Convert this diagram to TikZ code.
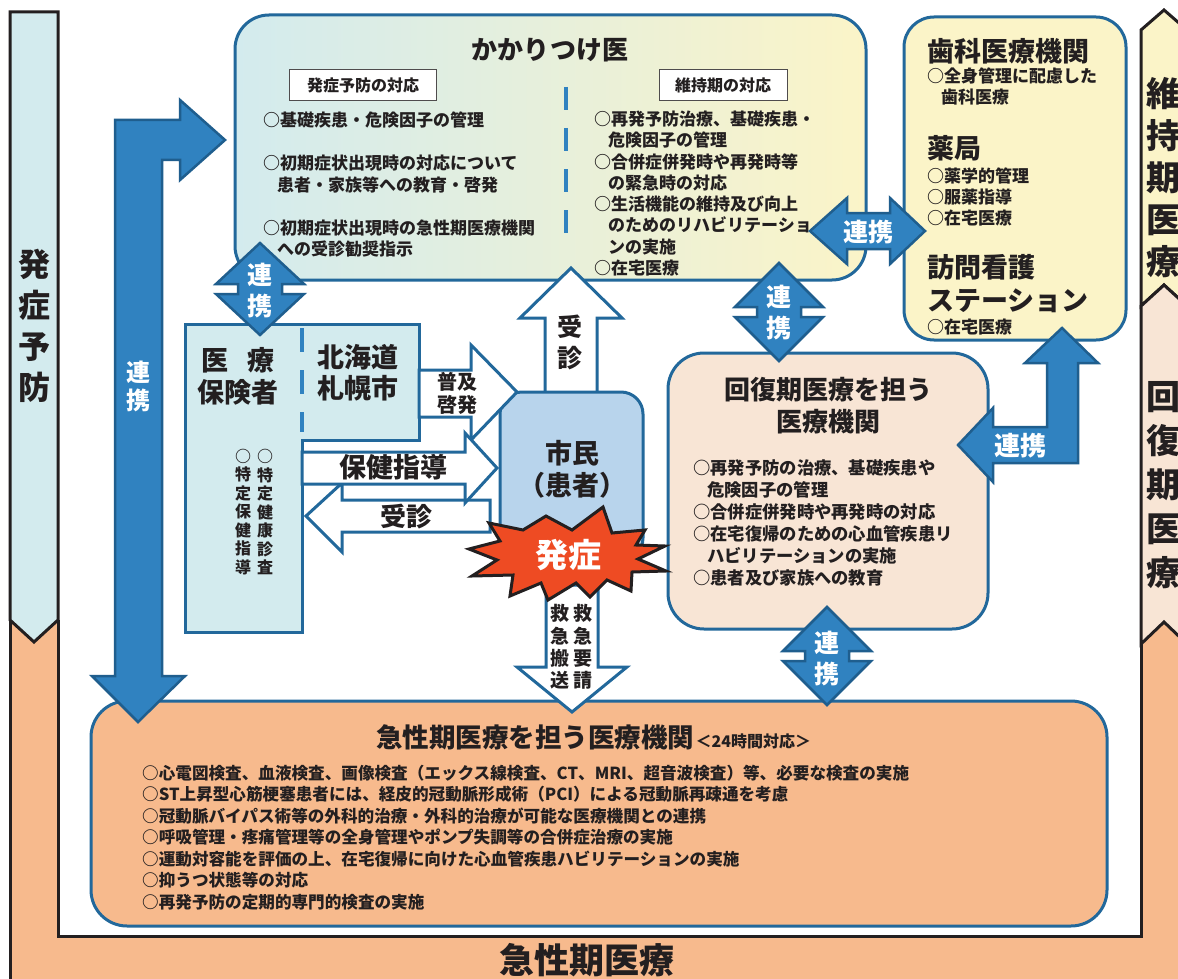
\documentclass[tikz,border=0pt]{standalone}
\usepackage{fontspec}
\setmainfont{Noto Sans CJK JP}
\usepackage{xcolor}
\usepackage{tikz}
\usetikzlibrary{positioning}

\definecolor{edgeblue}{HTML}{22689B}
\definecolor{prevfill}{HTML}{D3EBEE}
\definecolor{maintfill}{HTML}{FBF4C8}
\definecolor{recfill}{HTML}{F8E5D5}
\definecolor{acutefill}{HTML}{F7BA8D}
\definecolor{citizenfill}{HTML}{B8D4EC}
\definecolor{linkfill}{HTML}{3082C0}
\definecolor{linkedge}{HTML}{1F5E8E}
\definecolor{burstred}{HTML}{EE4B23}
\definecolor{inkgray}{HTML}{231F20}

\begin{document}
\begin{tikzpicture}[x=1pt, y=-1pt,
    every node/.style={text=inkgray, inner sep=0pt},
    band/.style={draw=inkgray, line width=3pt, line join=miter},
    panel/.style={draw=edgeblue, line width=3pt},
    hollow/.style={draw=edgeblue, fill=white, line width=3pt, line join=miter},
    linkarrow/.style={draw=linkedge, fill=linkfill, line width=2.5pt, line join=miter},
    gapline/.style={linkfill, line width=4.5pt},
    heading/.style={font=\bfseries\fontsize{26}{32}\selectfont, align=center},
    items/.style={font=\bfseries\fontsize{17}{21.5}\selectfont, align=left, anchor=west},
    tagbox/.style={draw=inkgray!80, fill=white, line width=1pt,
        font=\bfseries\fontsize{16}{18}\selectfont, minimum height=31pt},
    linktext/.style={text=white, font=\bfseries\fontsize{25}{31}\selectfont, align=center},
    bandtext/.style={font=\bfseries\fontsize{34}{43}\selectfont, align=center},
    vtext/.style={font=\bfseries\fontsize{16}{18.5}\selectfont, align=center}
]
\useasboundingbox (0,0) rectangle (1178,979);
\fill[white] (0,0) rectangle (1178,979);

% ===== FRAME: phase bands =====
\fill[acutefill] (10,600) -- (58,600) -- (58,936) -- (1141,936) -- (1141,600)
    -- (1200,600) -- (1200,1000) -- (10,1000) -- cycle;
\draw[band, fill=prevfill] (10,12) -- (58,12) -- (58,620) -- (34,642) -- (10,620) -- cycle;
\draw[band, fill=maintfill] (1141,306) -- (1141,30) -- (1164,10) -- (1187,30)
    -- (1187,306) -- (1164,285) -- cycle;
\draw[band, fill=recfill] (1141,644) -- (1141,306) -- (1164,285) -- (1187,306)
    -- (1187,644) -- (1164,622) -- cycle;
\draw[band] (10,620) -- (10,1000);
\draw[band] (58,620) -- (58,936) -- (1141,936) -- (1141,644);

\node[bandtext, font=\bfseries\fontsize{32}{41}\selectfont] (prevband) at (34,326) {発\\症\\予\\防};
\node[bandtext, font=\bfseries\fontsize{34}{42}\selectfont] (maintband) at (1163,178) {維\\持\\期\\医\\療};
\node[bandtext, font=\bfseries\fontsize{34}{44}\selectfont] (recband) at (1163,485) {回\\復\\期\\医\\療};
\node[bandtext, font=\bfseries\fontsize{35}{40}\selectfont] (acuteband) at (587,960) {急性期医療};

% ===== かかりつけ医 =====
\draw[panel, rounded corners=34pt, left color=prevfill, right color=maintfill]
    (235,15) rectangle (866,280);
\node[heading] (kakari) at (550,50) {かかりつけ医};
\node[tagbox, minimum width=147pt] (prevtag) at (363,85) {発症予防の対応};
\node[tagbox, minimum width=128pt] (mainttag) at (723,85) {維持期の対応};
\draw[gapline, dash pattern=on 23pt off 18pt] (566,87) -- (566,236);

\node[items] (kprev1) at (263,120) {○基礎疾患・危険因子の管理};
\node[items] (kprev2) at (263,174) {○初期症状出現時の対応について\\\hspace*{14pt}患者・家族等への教育・啓発};
\node[items, font=\bfseries\fontsize{17}{21}\selectfont] (kprev3) at (263,238.5)
    {○初期症状出現時の急性期医療機関\\\hspace*{14pt}への受診勧奨指示};
\node[items, font=\bfseries\fontsize{17}{21.3}\selectfont] (kmaint) at (594,193.5)
    {○再発予防治療、基礎疾患・\\\hspace*{14pt}危険因子の管理\\○合併症併発時や再発時等\\%
     \hspace*{14pt}の緊急時の対応\\○生活機能の維持及び向上\\\hspace*{14pt}のためのリハビリテーショ\\%
     \hspace*{14pt}ンの実施\\○在宅医療};

% ===== 歯科・薬局・訪問看護 =====
\draw[panel, rounded corners=30pt, fill=maintfill] (904,17) rectangle (1126,340);
\node[heading, anchor=west, font=\bfseries\fontsize{27}{33}\selectfont] (dental) at (927,51) {歯科医療機関};
\node[items] (dentalitem) at (927,86.5) {○全身管理に配慮した\\\hspace*{14pt}歯科医療};
\node[heading, anchor=west, font=\bfseries\fontsize{27}{33}\selectfont] (pharmacy) at (927,148) {薬局};
\node[items, font=\bfseries\fontsize{17}{21}\selectfont] (pharmitem) at (927,197)
    {○薬学的管理\\○服薬指導\\○在宅医療};
\node[heading, anchor=west, align=left, font=\bfseries\fontsize{27}{33}\selectfont] (nursing) at (927,283.5)
    {訪問看護\\ステーション};
\node[items] (nursitem) at (927,327) {○在宅医療};

% ===== 医療保険者 / 北海道札幌市 =====
\draw[panel, fill=prevfill, line join=miter] (185,324) -- (419,324) -- (419,440) -- (302,440)
    -- (302,632) -- (185,632) -- cycle;
\draw[gapline, dash pattern=on 24pt off 18pt] (302,328) -- (302,432);
\node[heading, font=\bfseries\fontsize{27}{32}\selectfont] (insurer) at (238,376) {医\hspace{20pt}療\\保険者};
\node[heading, font=\bfseries\fontsize{27}{31}\selectfont] (sapporo) at (358,372.5) {北海道\\札幌市};
\node[vtext] (checkup) at (265,512) {○\\特\\定\\健\\康\\診\\査};
\node[vtext] (guidance) at (243,512) {○\\特\\定\\保\\健\\指\\導};

% ===== 回復期医療を担う医療機関 =====
\draw[panel, rounded corners=36pt, fill=recfill] (668,353) rectangle (988,629);
\node[heading] (recovery) at (828,406) {回復期医療を担う\\医療機関};
\node[items, font=\bfseries\fontsize{17.3}{22}\selectfont] (recitems) at (693,523)
    {○再発予防の治療、基礎疾患や\\\hspace*{14pt}危険因子の管理\\○合併症併発時や再発時の対応\\%
     ○在宅復帰のための心血管疾患リ\\\hspace*{14pt}ハビリテーションの実施\\○患者及び家族への教育};

% ===== 急性期医療を担う医療機関 =====
\draw[panel, rounded corners=36pt, fill=acutefill] (91,701) rectangle (1107,926);
\node[heading, anchor=west, font=\bfseries\fontsize{26.5}{32}\selectfont] (acute) at (376,737)
    {急性期医療を担う医療機関};
\node[font=\bfseries\fontsize{16}{18}\selectfont, base right=1pt of acute] (acutehours) {＜24時間対応＞};
\node[items, font=\bfseries\fontsize{16.6}{21.5}\selectfont] (acuteitems) at (142,837.5)
    {○心電図検査、血液検査、画像検査（エックス線検査、CT、MRI、超音波検査）等、必要な検査の実施\\%
     ○ST上昇型心筋梗塞患者には、経皮的冠動脈形成術（PCI）による冠動脈再疎通を考慮\\%
     ○冠動脈バイパス術等の外科的治療・外科的治療が可能な医療機関との連携\\%
     ○呼吸管理・疼痛管理等の全身管理やポンプ失調等の合併症治療の実施\\%
     ○運動対容能を評価の上、在宅復帰に向けた心血管疾患ハビリテーションの実施\\%
     ○抑うつ状態等の対応\\%
     ○再発予防の定期的専門的検査の実施};

% ===== 市民 and white arrows =====
\draw[hollow] (545,392) -- (545,318) -- (520,318) -- (571,268) -- (622,318) -- (597,318) -- (597,392);
\node[heading, font=\bfseries\fontsize{25}{31}\selectfont] (visitup) at (570,342.5) {受\\診};
\draw[panel, rounded corners=22pt, fill=citizenfill] (500,392) rectangle (643,560);
\node[heading, font=\bfseries\fontsize{27}{32}\selectfont] (citizen) at (572,469) {市民\\（患者）};

\draw[hollow] (419,370) -- (471,370) -- (471,345) -- (517,392) -- (471,440) -- (471,417) -- (419,417) -- cycle;
\node[heading, font=\bfseries\fontsize{20}{23}\selectfont] (spread) at (457,393.5) {普及\\啓発};
\draw[hollow] (490,500) -- (342,500) -- (342,483) -- (306,516) -- (342,552) -- (342,532) -- (490,532) -- cycle;
\node[heading, font=\bfseries\fontsize{26}{30}\selectfont] (visitleft) at (406,517) {受診};
\draw[hollow] (302,452) -- (465,452) -- (465,433) -- (497,468) -- (465,503) -- (465,484) -- (302,484) -- cycle;
\node[heading, font=\bfseries\fontsize{27}{30}\selectfont] (healthguide) at (393,467) {保健指導};

\draw[hollow] (546,585) -- (546,667) -- (517,667) -- (572,712) -- (627,667) -- (598,667) -- (598,585) -- cycle;
\node[vtext, font=\bfseries\fontsize{19}{22.3}\selectfont] (emergleft) at (560,647) {救\\急\\搬\\送};
\node[vtext, font=\bfseries\fontsize{19}{22.3}\selectfont] (emergright) at (583,647) {救\\急\\要\\請};

% ===== 発症 burst =====
\draw[draw=inkgray, line width=3pt, fill=burstred, line join=miter]
    (603,507) -- (612,533) -- (645,530) -- (636,545) -- (665,546) -- (638,559)
    -- (666,571) -- (632,572) -- (631,591) -- (607,580) -- (590,597) -- (576,583)
    -- (548,600) -- (541,583) -- (510,596) -- (513,575) -- (472,576) -- (497,560)
    -- (469,549) -- (500,541) -- (489,523) -- (523,530) -- (546,516) -- (572,530) -- cycle;
\node[text=white, font=\bfseries\fontsize{33}{36}\selectfont] (onset) at (568,555) {発症};

% ===== 連携 arrows =====
\draw[linkarrow] (138,722) -- (92,676) -- (115,676) -- (115,120) -- (180,120) -- (180,100)
    -- (225,140) -- (180,180) -- (180,160) -- (162,160) -- (162,676) -- (185,676) -- cycle;
\node[linktext, font=\bfseries\fontsize{24}{28}\selectfont] (linkleft) at (138,386) {連\\携};

\draw[linkarrow, shift={(260,289)}] (0,-46) -- (44,-5) -- (22,-5) -- (22,5) -- (44,5)
    -- (0,46) -- (-44,5) -- (-22,5) -- (-22,-5) -- (-44,-5) -- cycle;
\node[linktext] (linkinsurer) at (260,290.5) {連\\携};

\draw[linkarrow, shift={(779,312)}] (0,-49) -- (44,-5) -- (22,-5) -- (22,5) -- (44,5)
    -- (0,49) -- (-44,5) -- (-22,5) -- (-22,-5) -- (-44,-5) -- cycle;
\node[linktext] (linkrec) at (779,313) {連\\携};

\draw[linkarrow, shift={(827,656)}] (0,-49) -- (44,-5) -- (22,-5) -- (22,5) -- (44,5)
    -- (0,49) -- (-44,5) -- (-22,5) -- (-22,-5) -- (-44,-5) -- cycle;
\node[linktext] (linkacute) at (827,659) {連\\携};

\draw[linkarrow, shift={(867,231)}] (-57,0) -- (-20,-33) -- (-20,-18) -- (23,-18) -- (23,-33)
    -- (58,0) -- (23,33) -- (23,18) -- (-20,18) -- (-20,33) -- cycle;
\node[linktext] (linkdental) at (868,232) {連携};

\draw[linkarrow] (958,445) -- (993,408) -- (993,427) -- (1047,427) -- (1047,363) -- (1025,363)
    -- (1062,328) -- (1098,363) -- (1078,363) -- (1078,463) -- (993,463) -- (993,482) -- cycle;
\node[linktext, font=\bfseries\fontsize{26}{30}\selectfont] (linknursing) at (1020,446) {連携};

\end{tikzpicture}
\end{document}
